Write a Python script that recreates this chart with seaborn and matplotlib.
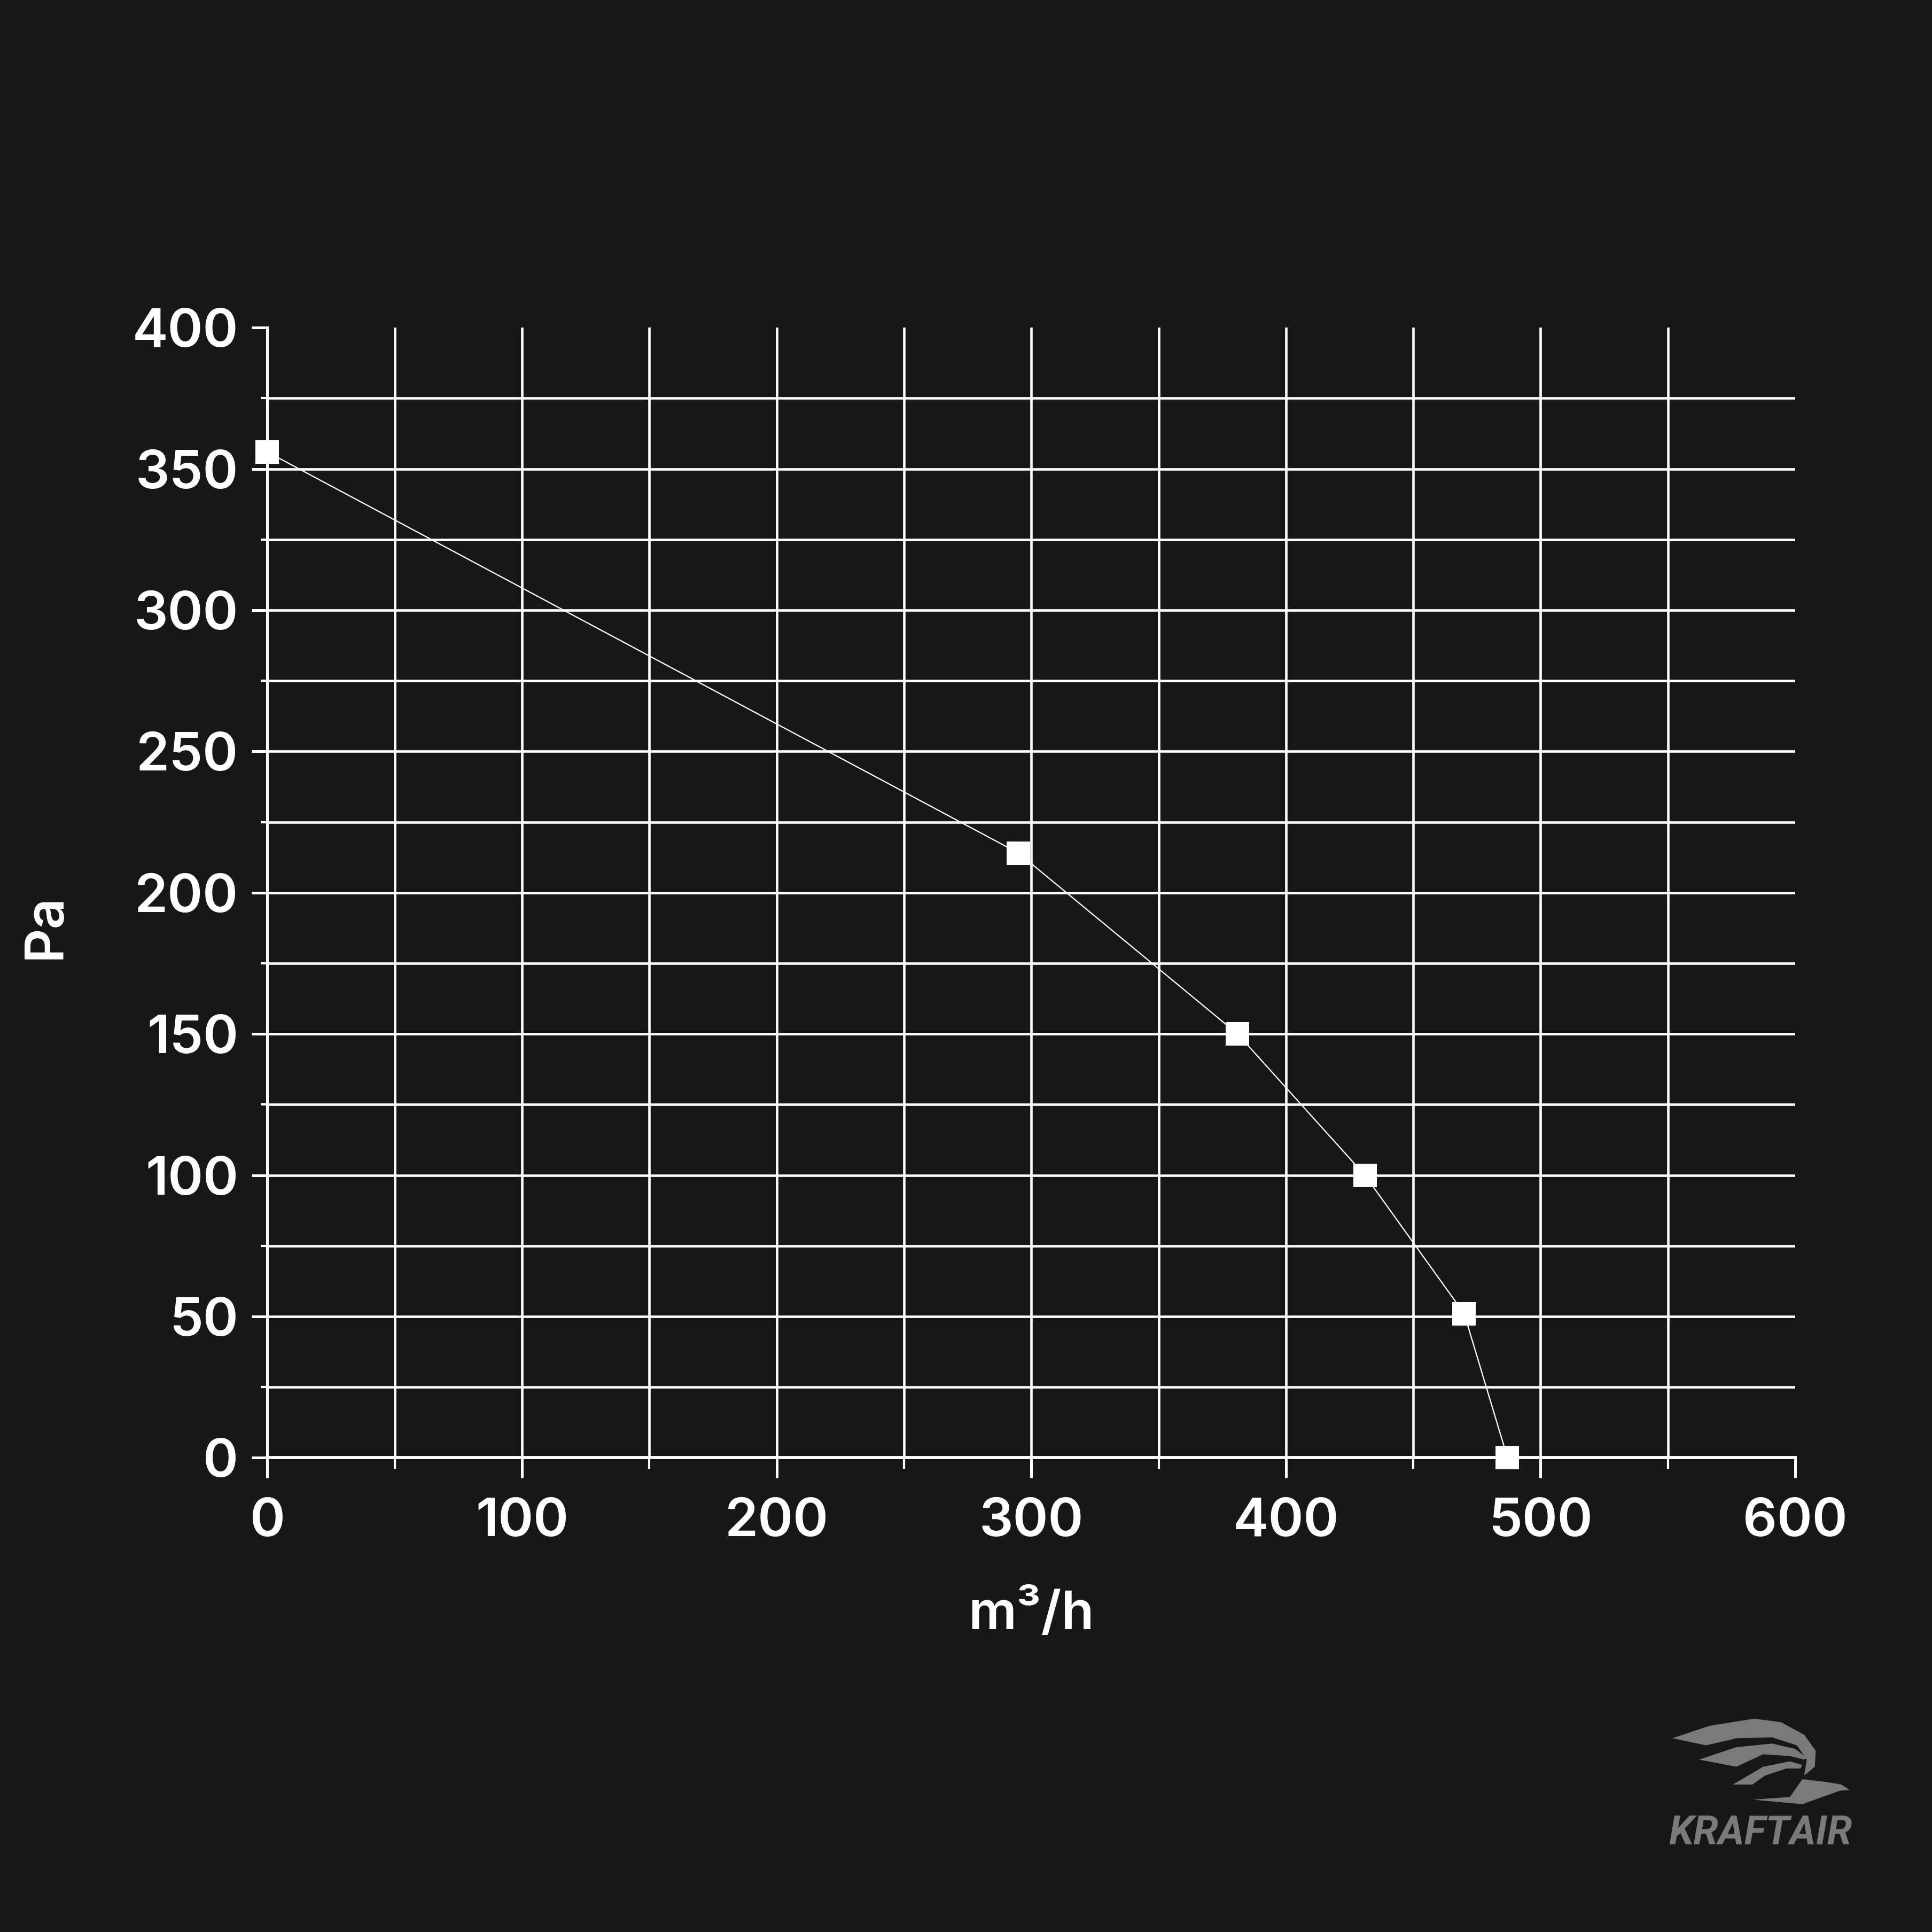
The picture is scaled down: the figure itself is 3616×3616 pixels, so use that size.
import numpy as np
import pandas as pd
import matplotlib
matplotlib.use('Agg')
import matplotlib.pyplot as plt
from matplotlib.patches import Polygon
from matplotlib.ticker import MultipleLocator
import seaborn as sns

# fan curve data
airflow = [0, 295, 381, 431, 470, 487]      # m3/h
pressure = [356, 214, 150, 100, 51, 0]      # Pa

x_major = [0, 100, 200, 300, 400, 500, 600]
y_major = [0, 50, 100, 150, 200, 250, 300, 350, 400]

BG = '#171717'
FG = '#ffffff'

sns.set_theme(style='dark')
plt.rcParams['font.family'] = ['Inter', 'DejaVu Sans']

W = 3616
fig = plt.figure(figsize=(W / 300, W / 300), dpi=300, facecolor=BG)
ax = fig.add_axes([0.1384, 0.2455, 0.9292 - 0.1384, 0.8304 - 0.2455])
ax.set_facecolor(BG)

df = pd.DataFrame({'airflow': airflow, 'pressure': pressure})

# grid lines (drawn by hand so they stop short of the top edge, like the original)
for xv in range(50, 600, 50):
    ax.axvline(xv, color=FG, lw=1.1, zorder=1)
for yv in range(25, 400, 25):
    ax.axhline(yv, color=FG, lw=1.1, zorder=1)

sns.lineplot(data=df, x='airflow', y='pressure', ax=ax, color=FG, lw=0.55,
             marker='s', markersize=10.5, markeredgewidth=0, markerfacecolor=FG,
             zorder=3, clip_on=False)

ax.set_xlim(0, 600)
ax.set_ylim(0, 400)
ax.set_xticks(x_major)
ax.set_yticks(y_major)
ax.xaxis.set_minor_locator(MultipleLocator(50))
ax.yaxis.set_minor_locator(MultipleLocator(25))
ax.grid(False)

for s in ['top', 'right']:
    ax.spines[s].set_visible(False)
ax.spines['left'].set_color(FG)
ax.spines['left'].set_linewidth(1.2)
ax.spines['bottom'].set_color(FG)
ax.spines['bottom'].set_linewidth(1.4)

ax.tick_params(axis='x', which='major', direction='out', length=9, width=1.2,
               color=FG, labelcolor=FG, labelsize=24, pad=9, bottom=True)
ax.tick_params(axis='x', which='minor', direction='out', length=5, width=1.0,
               color=FG, bottom=True)
ax.tick_params(axis='y', which='major', direction='out', length=7, width=1.2,
               color=FG, labelcolor=FG, labelsize=24, pad=6, left=True)
ax.tick_params(axis='y', which='minor', direction='out', length=3, width=1.0,
               color=FG, left=True)
for lab in ax.get_xticklabels() + ax.get_yticklabels():
    lab.set_fontweight('semibold')

ax.set_xlabel('m³/h', color=FG, fontsize=24, fontweight='semibold', va='center')
ax.xaxis.set_label_coords(0.5, -0.1385)
ax.set_ylabel('Pa', color=FG, fontsize=24, fontweight='semibold', va='center')
ax.yaxis.set_label_coords(-0.145, 0.47)

# KRAFTAIR logo, rough sketch in figure pixels
LOGO = '#7a7a7a'
def zpt(pts):
    return [((3050 + zx / 3) / W, 1 - (3150 + zy / 3) / W) for zx, zy in pts]

wings = [
    [(240, 310), (450, 240), (700, 200), (850, 220), (980, 290), (1045, 380),
     (1040, 470), (980, 520), (995, 430), (940, 350), (800, 305), (600, 310),
     (430, 350)],
    [(390, 430), (600, 360), (800, 340), (930, 370), (995, 420), (980, 430),
     (900, 410), (750, 400), (600, 470)],
    [(580, 570), (750, 470), (900, 440), (970, 460), (960, 480), (880, 480),
     (760, 520), (690, 570)],
    [(690, 655), (900, 640), (970, 540), (1100, 555), (1190, 570), (1235, 600),
     (1180, 605), (970, 680)],
]
for w in wings:
    fig.patches.append(Polygon(zpt(w), closed=True, transform=fig.transFigure,
                               facecolor=LOGO, edgecolor='none'))

fig.text(3295 / W, 1 - 3452 / W, 'KRAFTAIR', color=LOGO, fontsize=18,
         fontweight='bold', fontstyle='italic', family=['Roboto', 'DejaVu Sans'],
         ha='center', va='baseline')

fig.savefig('out.png', dpi=300, facecolor=BG)
